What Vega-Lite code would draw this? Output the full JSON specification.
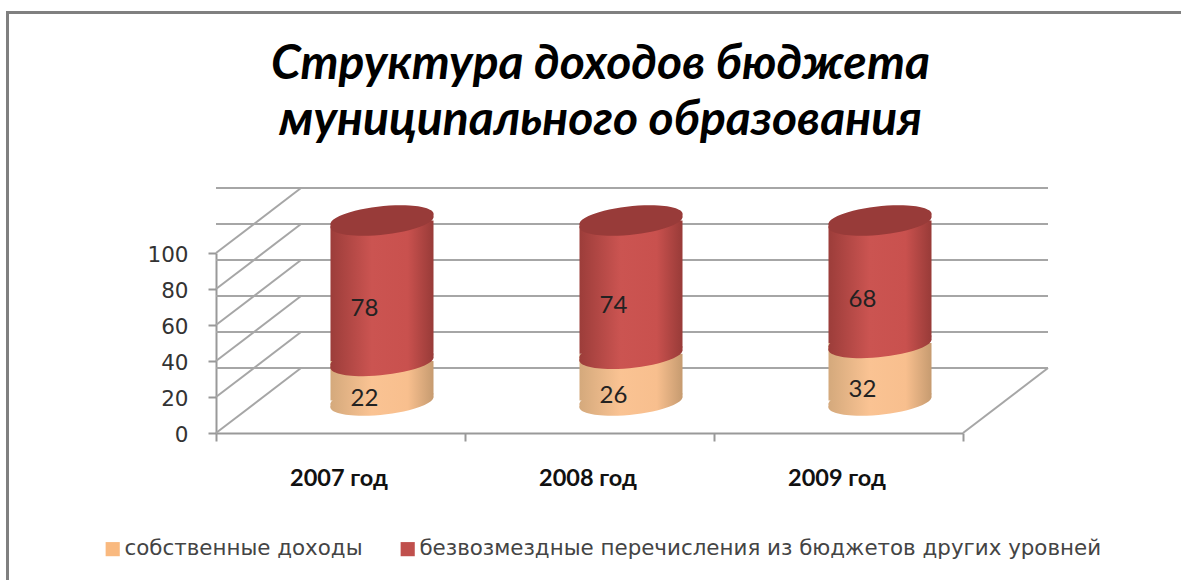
{
"$schema":"https://vega.github.io/schema/vega-lite/v6.json",
"autosize":{"type":"none"},
"padding":{"left":216,"top":253,"right":218,"bottom":147},
"width":747,"height":180,
"background":"white",
"config":{"view":{"stroke":null}},
"title":{"text":["Структура доходов бюджета","муниципального образования"],"font":"Lato","fontSize":48,"fontWeight":"bold","fontStyle":"italic","color":"#000000","lineHeight":56,"anchor":"middle","dx":11,"offset":-138},
"datasets":{
"rows":[
{"year":"2007 год","series":"собственные доходы","value":22},
{"year":"2007 год","series":"безвозмездные перечисления из бюджетов других уровней","value":78},
{"year":"2008 год","series":"собственные доходы","value":26},
{"year":"2008 год","series":"безвозмездные перечисления из бюджетов других уровней","value":74},
{"year":"2009 год","series":"собственные доходы","value":32},
{"year":"2009 год","series":"безвозмездные перечисления из бюджетов других уровней","value":68}
],
"grid":[{"tick":0},{"tick":20},{"tick":40},{"tick":60},{"tick":80},{"tick":100}]
},
"data":{"name":"rows"},
"transform":[
{"stack":"value","groupby":["year"],"sort":[{"field":"series","order":"descending"}],"as":["y0","y1"]},
{"calculate":"(datum.y0+datum.y1)/2","as":"mid"}
],
"encoding":{
"x":{"field":"year","type":"nominal","scale":{"type":"band","paddingInner":0,"paddingOuter":0},"axis":{"title":null,"labelAngle":0,"labelFont":"Lato","labelFontSize":23.5,"labelFontWeight":"bold","labelColor":"#111111","tickBand":"extent","tickSize":8,"tickColor":"#999999","tickWidth":2,"domainColor":"#999999","domainWidth":2,"labelPadding":25,"labelOffset":-2,"grid":false}},
"y":{"type":"quantitative","scale":{"domain":[0,100]},"axis":{"title":null,"values":[0,20,40,60,80,100],"labelFont":"DejaVu Sans","labelFontSize":21.5,"labelColor":"#333333","tickSize":8,"tickColor":"#999999","tickWidth":2,"domainColor":"#999999","domainWidth":2,"labelPadding":20,"labelOffset":2,"grid":false}}
},
"layer":[
{"data":{"values":[{"tick":100}]},"transform":[],"mark":{"type":"point","shape":"M1200,-240.5L-208.5,-240.5L-208.5,340","size":4,"filled":false,"stroke":"#808080","strokeWidth":3,"opacity":1,"clip":false},"encoding":{"x":{"datum":"2007 год","bandPosition":0},"y":{"field":"tick"}}},
{"data":{"name":"grid"},"transform":[],"mark":{"type":"rule","stroke":"#a6a6a6","strokeWidth":2,"xOffset":85,"yOffset":-65},"encoding":{"x":null,"y":{"field":"tick"}}},
{"data":{"name":"grid"},"transform":[],"mark":{"type":"point","shape":"M0,0L85,-65","size":4,"filled":false,"stroke":"#a6a6a6","strokeWidth":2,"opacity":1},"encoding":{"x":{"datum":"2007 год","bandPosition":0},"y":{"field":"tick"}}},
{"data":{"values":[{"tick":0}]},"transform":[],"mark":{"type":"point","shape":"M0,0L85,-65","size":4,"filled":false,"stroke":"#a6a6a6","strokeWidth":2,"opacity":1},"encoding":{"x":{"datum":"2009 год","bandPosition":1},"y":{"field":"tick"}}},
{"mark":{"type":"point","shape":"square","size":100,"filled":true,"opacity":1,"xOffset":41.5,"yOffset":-32.5},"encoding":{"y":{"field":"y1"},"color":{"field":"series","type":"nominal","scale":{"domain":["собственные доходы","безвозмездные перечисления из бюджетов других уровней"],"range":["#f9b97f","#c0504d"]},"legend":{"title":null,"orient":"none","legendX":-114,"legendY":285,"direction":"horizontal","columns":2,"symbolType":"square","symbolSize":200,"symbolOpacity":1,"labelFont":"DejaVu Sans","labelFontSize":21.4,"labelColor":"#444444","labelLimit":800,"columnPadding":34,"symbolStrokeWidth":0,"labelOffset":1}}}},
{"transform":[{"filter":"datum.y0===0"}],"mark":{"type":"point","shape":"M-51.5,5A52,13,-6,1,1,51.5,-5A52,13,-6,1,1,-51.5,5Z","size":4,"filled":true,"opacity":1,"xOffset":41.5,"yOffset":-32.5,"fill":{"x1":0,"x2":1,"y1":0,"y2":0,"gradient":"linear","stops":[{"offset":0,"color":"#d4a97c"},{"offset":0.4,"color":"#fac393"},{"offset":0.75,"color":"#f8bf8e"},{"offset":1,"color":"#c69b70"}]}},"encoding":{"y":{"field":"y0"}}},
{"transform":[{"filter":"datum.y0===0"}],"mark":{"type":"bar","width":103,"xOffset":41.5,"yOffset":-32.5,"y2Offset":-32.5,"cornerRadiusBottomRight":9,"fill":{"x1":0,"x2":1,"y1":0,"y2":0,"gradient":"linear","stops":[{"offset":0,"color":"#d4a97c"},{"offset":0.4,"color":"#fac393"},{"offset":0.75,"color":"#f8bf8e"},{"offset":1,"color":"#c69b70"}]}},"encoding":{"y":{"field":"y0"},"y2":{"field":"y1"}}},
{"transform":[{"filter":"datum.y0>0"}],"mark":{"type":"point","shape":"M-51.5,5A52,13,-6,1,1,51.5,-5A52,13,-6,1,1,-51.5,5Z","size":4,"filled":true,"opacity":1,"xOffset":41.5,"yOffset":-32.5,"fill":{"x1":0,"x2":1,"y1":0,"y2":0,"gradient":"linear","stops":[{"offset":0,"color":"#9c3d3a"},{"offset":0.4,"color":"#cb5451"},{"offset":0.75,"color":"#c9514e"},{"offset":1,"color":"#983b38"}]}},"encoding":{"y":{"field":"y0"}}},
{"transform":[{"filter":"datum.y0>0"}],"mark":{"type":"bar","width":103,"xOffset":41.5,"yOffset":-32.5,"y2Offset":-32.5,"cornerRadiusBottomRight":9,"cornerRadiusTopLeft":9,"fill":{"x1":0,"x2":1,"y1":0,"y2":0,"gradient":"linear","stops":[{"offset":0,"color":"#9c3d3a"},{"offset":0.4,"color":"#cb5451"},{"offset":0.75,"color":"#c9514e"},{"offset":1,"color":"#983b38"}]}},"encoding":{"y":{"field":"y0"},"y2":{"field":"y1"}}},
{"transform":[{"filter":"datum.y0>0"}],"mark":{"type":"point","shape":"M-51.5,5A52,13,-6,1,1,51.5,-5A52,13,-6,1,1,-51.5,5Z","size":4,"filled":true,"opacity":1,"xOffset":41.5,"yOffset":-32.5,"fill":"#983b39"},"encoding":{"y":{"field":"y1"}}},
{"mark":{"type":"text","font":"Lato","fontSize":24,"color":"#222222","xOffset":24,"yOffset":-14},"encoding":{"y":{"field":"mid"},"text":{"field":"value","type":"quantitative"}}}
]
}
